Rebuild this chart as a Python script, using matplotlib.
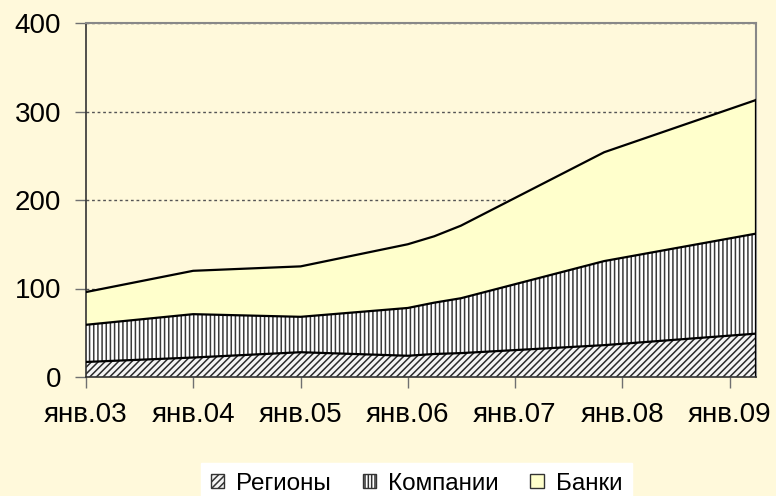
import numpy as np
import pandas as pd
import matplotlib
matplotlib.use('Agg')
import matplotlib.pyplot as plt
from matplotlib.patches import Patch

# данные (млрд руб.)
dates = ['2003-01-01', '2004-01-01', '2005-01-01', '2006-01-01',
         '2006-04-01', '2006-07-01', '2007-11-01', '2009-04-01']
regions = [17, 22, 28, 24, 26, 27, 36, 49]
companies = [42, 49, 40, 54, 58, 62, 95, 113]
banks = [37, 49, 57, 72, 75, 82, 123, 151]
series_names = ['Регионы', 'Компании', 'Банки']

tick_dates = ['2003-01-01', '2004-01-01', '2005-01-01', '2006-01-01',
              '2007-01-01', '2008-01-01', '2009-01-01']
tick_labels = ['янв.03', 'янв.04', 'янв.05', 'янв.06', 'янв.07', 'янв.08', 'янв.09']
yticks = [0, 100, 200, 300, 400]

bg = '#FFF9DB'
bank_col = '#FFFFCC'

plt.rcParams['font.family'] = ['Liberation Sans', 'DejaVu Sans']
plt.rcParams['hatch.linewidth'] = 1.1

fig = plt.figure(figsize=(7.76, 4.96), dpi=100, facecolor=bg)
ax = fig.add_axes([86/776, 1-377/496, (756-86)/776, (377-23)/496])
ax.set_facecolor(bg)

x = pd.to_datetime(dates)
lvl1 = np.array(regions)
lvl2 = lvl1 + np.array(companies)
lvl3 = lvl2 + np.array(banks)

ax.fill_between(x, 0, lvl1, facecolor='#f4f4f4', edgecolor='#2a2a2a', hatch='/////', linewidth=0, zorder=2)
ax.fill_between(x, lvl1, lvl2, facecolor='white', edgecolor='#3a3a3a', hatch='||||', linewidth=0, zorder=2)
ax.fill_between(x, lvl2, lvl3, facecolor=bank_col, linewidth=0, zorder=2)
for lv in (lvl1, lvl2, lvl3):
    ax.plot(x, lv, color='black', lw=1.6, zorder=3, solid_joinstyle='round')
ax.plot([x[-1], x[-1]], [0, lvl3[-1]], color='black', lw=1.6, zorder=3)

ax.set_xlim(x[0], x[-1])
ax.set_ylim(0, 400)
ax.set_yticks(yticks)
ax.set_xticks(pd.to_datetime(tick_dates))
ax.set_xticklabels(tick_labels)
ax.tick_params(axis='both', direction='out', length=8, width=1, color='#707070', labelsize=20)
ax.tick_params(axis='x', pad=10)
ax.tick_params(axis='y', pad=10)

ax.set_axisbelow(True)
ax.yaxis.grid(True, linestyle=(0, (2, 2)), color='#555555', lw=1)

for s in ['top', 'right']:
    ax.spines[s].set_color('#888888')
    ax.spines[s].set_linewidth(1.5)
for s in ['left', 'bottom']:
    ax.spines[s].set_color('#333333')
    ax.spines[s].set_linewidth(1.2)
ax.spines['bottom'].set_zorder(4)

handles = [Patch(facecolor='#f4f4f4', edgecolor='#333333', hatch='/////'),
           Patch(facecolor='white', edgecolor='#333333', hatch='|||||'),
           Patch(facecolor=bank_col, edgecolor='#333333')]
fig.legend(handles, series_names, loc='upper left', bbox_to_anchor=(201/776, 1-463/496),
           ncol=3, fontsize=17.5, frameon=True, fancybox=False, facecolor='white',
           edgecolor='white', framealpha=1, handlelength=0.55, handleheight=0.55,
           handletextpad=0.5, columnspacing=1.3, borderpad=0.4, borderaxespad=0)

fig.savefig('out.png', dpi=100, facecolor=bg)
